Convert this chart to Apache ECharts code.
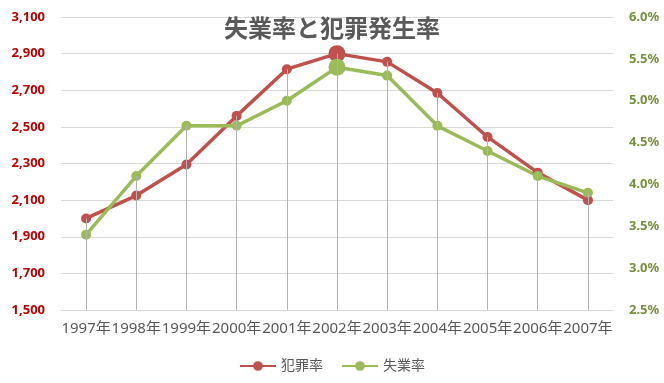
<!DOCTYPE html>
<html><head><meta charset="utf-8">
<script src="https://cdn.jsdelivr.net/npm/echarts@6/dist/echarts.min.js"></script>
<style>html,body{margin:0;padding:0;background:#fff}#c{width:664px;height:383px}</style>
</head><body><div id="c"></div>
<script>
const categories = ['1997年','1998年','1999年','2000年','2001年','2002年','2003年','2004年','2005年','2006年','2007年'];
const crimeRate = [2000, 2125, 2295, 2560, 2815, 2900, 2855, 2685, 2445, 2250, 2100];
const unemployment = [3.4, 4.1, 4.7, 4.7, 5.0, 5.4, 5.3, 4.7, 4.4, 4.1, 3.9];
const highlightIndex = 5;

const FONT = "'Noto Sans', 'Noto Sans CJK JP', sans-serif";
const RED = '#C0504D', GREEN = '#9BBB59';

function pts(arr, big) {
  return arr.map((v, i) => i === highlightIndex ? {value: v, symbolSize: big} : v);
}
function drops(arr, base) {
  return arr.map((v, i) => [{coord: [i, v]}, {coord: [i, base]}]);
}

const chart = echarts.init(document.getElementById('c'));
chart.setOption({
  animation: false,
  textStyle: {fontFamily: FONT},
  title: {
    text: '失業率と犯罪発生率', left: 'center', top: 13,
    textStyle: {fontFamily: FONT, fontSize: 24, fontWeight: 'bold', color: '#595959'}
  },
  legend: {
    bottom: 5, left: 'center', itemWidth: 36, itemHeight: 12, itemGap: 18,
    data: ['犯罪率', '失業率'],
    textStyle: {fontFamily: FONT, fontSize: 14, color: '#595959'}
  },
  grid: {left: 61, right: 51, top: 17, bottom: 73},
  xAxis: {
    type: 'category', data: categories, boundaryGap: true,
    axisLine: {lineStyle: {color: '#D9D9D9'}},
    axisTick: {show: false},
    axisLabel: {interval: 0, color: '#595959', fontSize: 15, margin: 11, fontFamily: FONT}
  },
  yAxis: [{
    type: 'value', min: 1500, max: 3100, interval: 200,
    axisLine: {show: false}, axisTick: {show: false},
    splitLine: {lineStyle: {color: '#D9D9D9'}},
    axisLabel: {color: '#C00000', fontWeight: 'bold', fontSize: 13, margin: 16, fontFamily: FONT,
      formatter: v => v.toLocaleString('en-US')}
  }, {
    type: 'value', min: 2.5, max: 6.0, interval: 0.5,
    axisLine: {show: false}, axisTick: {show: false}, splitLine: {show: false},
    axisLabel: {color: '#76923C', fontWeight: 'bold', fontSize: 13, margin: 16, fontFamily: FONT,
      formatter: v => v.toFixed(1) + '%'}
  }],
  series: [{
    name: 'drop1', type: 'line', data: [], yAxisIndex: 0, z: 1, silent: true,
    markLine: {silent: true, symbol: 'none', label: {show: false},
      lineStyle: {color: '#B3B3B3', width: 1, type: 'solid'}, data: drops(crimeRate, 1500)}
  }, {
    name: 'drop2', type: 'line', data: [], yAxisIndex: 1, z: 1, silent: true,
    markLine: {silent: true, symbol: 'none', label: {show: false},
      lineStyle: {color: '#B3B3B3', width: 1, type: 'solid'}, data: drops(unemployment, 2.5)}
  }, {
    name: '犯罪率', type: 'line', yAxisIndex: 0, z: 3,
    data: pts(crimeRate, 17), symbol: 'circle', symbolSize: 10,
    lineStyle: {color: RED, width: 3.5}, itemStyle: {color: RED}
  }, {
    name: '失業率', type: 'line', yAxisIndex: 1, z: 3,
    data: pts(unemployment, 17), symbol: 'circle', symbolSize: 10,
    lineStyle: {color: GREEN, width: 3.5}, itemStyle: {color: GREEN}
  }]
});
</script></body></html>
